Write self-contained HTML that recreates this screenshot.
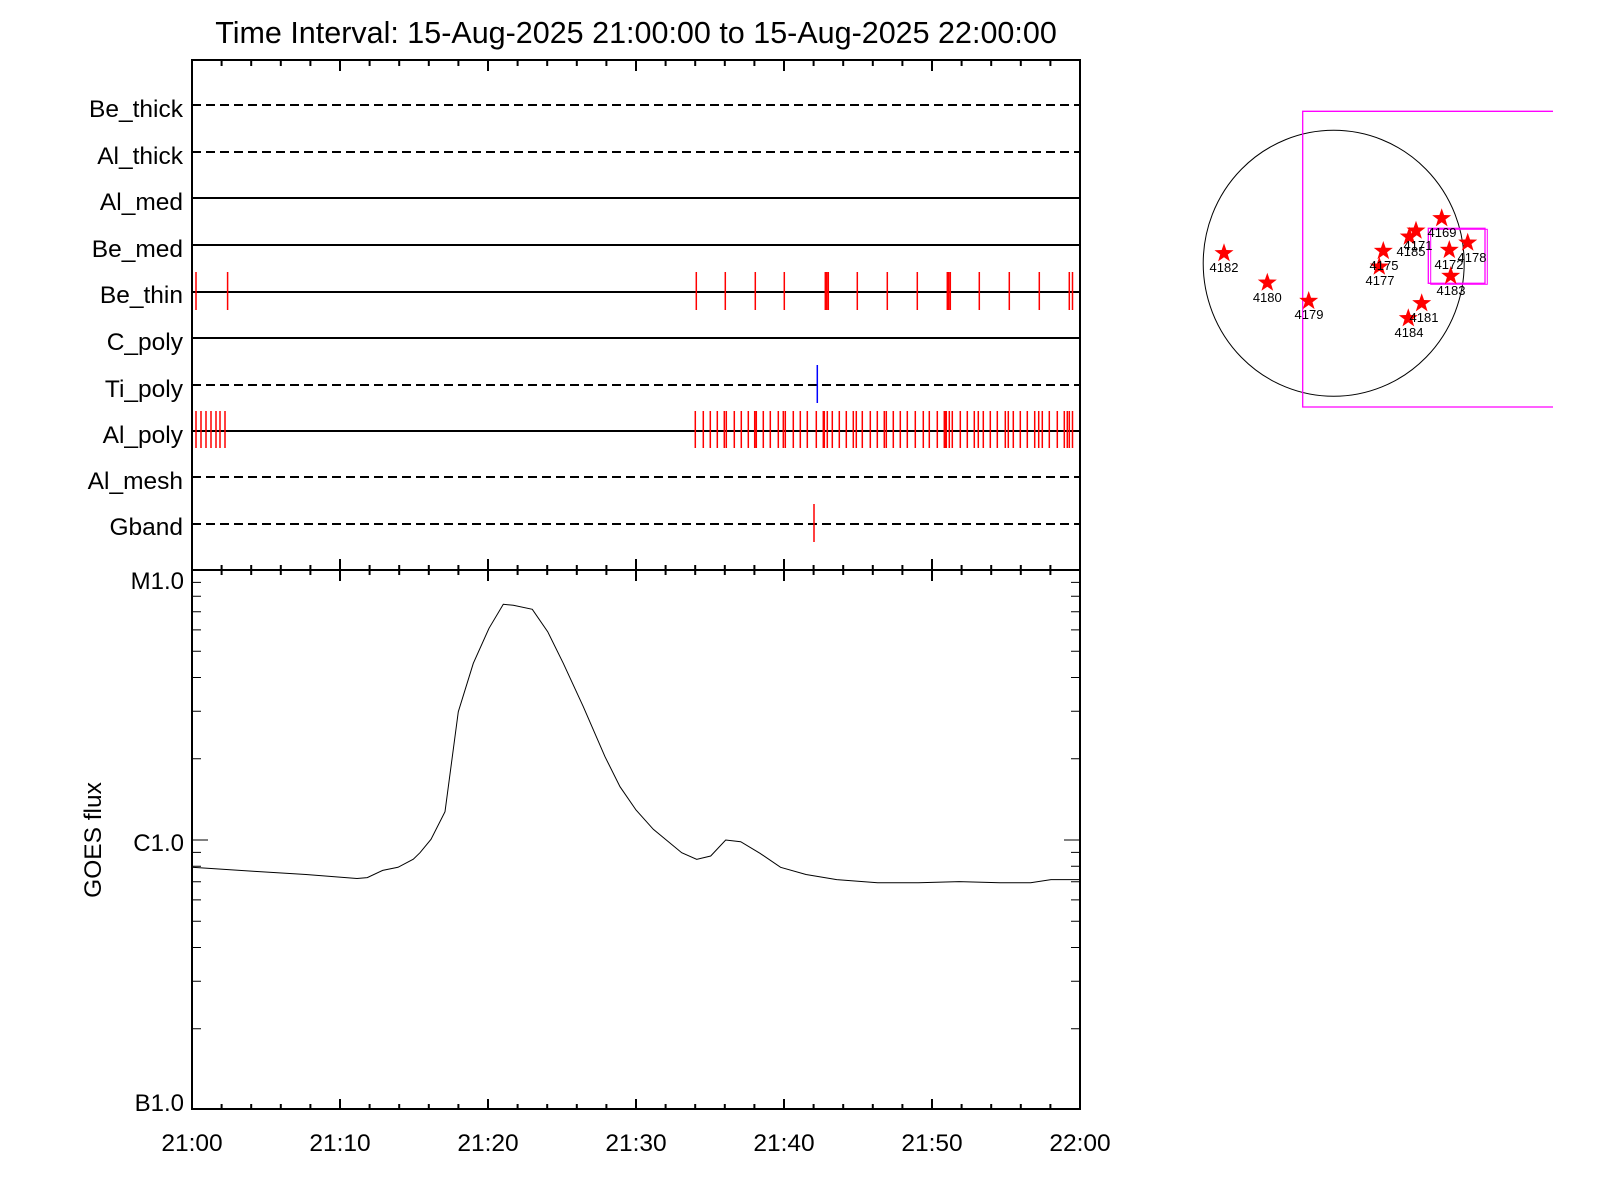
<!DOCTYPE html>
<html><head><meta charset="utf-8"><style>
html,body{margin:0;padding:0;background:#fff;}
svg{display:block;}
text{font-family:"Liberation Sans",sans-serif;fill:#000;}
</style></head><body>
<svg width="1600" height="1200" viewBox="0 0 1600 1200" xmlns="http://www.w3.org/2000/svg">
<defs>
<polygon id="st" points="0,-10 2.35,-3.24 9.51,-3.09 3.8,1.24 5.88,8.09 0,4 -5.88,8.09 -3.8,1.24 -9.51,-3.09 -2.35,-3.24" fill="#ff0000"/>
</defs>
<text x="636" y="43" font-size="30.5" text-anchor="middle">Time Interval: 15-Aug-2025 21:00:00 to 15-Aug-2025 22:00:00</text>

<rect x="192" y="60" width="888" height="510" fill="none" stroke="#000" stroke-width="2"/>
<path stroke="#000" stroke-width="2" fill="none" d="
M221.6 60v6M251.2 60v6M280.8 60v6M310.4 60v6M369.6 60v6M399.2 60v6M428.8 60v6M458.4 60v6M517.6 60v6M547.2 60v6M576.8 60v6M606.4 60v6M665.6 60v6M695.2 60v6M724.8 60v6M754.4 60v6M813.6 60v6M843.2 60v6M872.8 60v6M902.4 60v6M961.6 60v6M991.2 60v6M1020.8 60v6M1050.4 60v6
M340 60v11M488 60v11M636 60v11M784 60v11M932 60v11
M221.6 565v10M251.2 565v10M280.8 565v10M310.4 565v10M369.6 565v10M399.2 565v10M428.8 565v10M458.4 565v10M517.6 565v10M547.2 565v10M576.8 565v10M606.4 565v10M665.6 565v10M695.2 565v10M724.8 565v10M754.4 565v10M813.6 565v10M843.2 565v10M872.8 565v10M902.4 565v10M961.6 565v10M991.2 565v10M1020.8 565v10M1050.4 565v10
M192 559v22M340 559v22M488 559v22M636 559v22M784 559v22M932 559v22M1080 559v22
M221.6 1109v-5M251.2 1109v-5M280.8 1109v-5M310.4 1109v-5M369.6 1109v-5M399.2 1109v-5M428.8 1109v-5M458.4 1109v-5M517.6 1109v-5M547.2 1109v-5M576.8 1109v-5M606.4 1109v-5M665.6 1109v-5M695.2 1109v-5M724.8 1109v-5M754.4 1109v-5M813.6 1109v-5M843.2 1109v-5M872.8 1109v-5M902.4 1109v-5M961.6 1109v-5M991.2 1109v-5M1020.8 1109v-5M1050.4 1109v-5
M340 1109v-10M488 1109v-10M636 1109v-10M784 1109v-10M932 1109v-10
"/>

<g stroke="#000" stroke-width="2">
<line x1="192" x2="1080" y1="105" y2="105" stroke-dasharray="9,5"/>
<line x1="192" x2="1080" y1="152" y2="152" stroke-dasharray="9,5"/>
<line x1="192" x2="1080" y1="198" y2="198"/>
<line x1="192" x2="1080" y1="245" y2="245"/>
<line x1="192" x2="1080" y1="292" y2="292"/>
<line x1="192" x2="1080" y1="338" y2="338"/>
<line x1="192" x2="1080" y1="385" y2="385" stroke-dasharray="9,5"/>
<line x1="192" x2="1080" y1="431" y2="431"/>
<line x1="192" x2="1080" y1="477" y2="477" stroke-dasharray="9,5"/>
<line x1="192" x2="1080" y1="524" y2="524" stroke-dasharray="9,5"/>
</g>
<g font-size="24.5" text-anchor="end">
<text x="183" y="117">Be_thick</text>
<text x="183" y="164">Al_thick</text>
<text x="183" y="210">Al_med</text>
<text x="183" y="257">Be_med</text>
<text x="183" y="303">Be_thin</text>
<text x="183" y="350">C_poly</text>
<text x="183" y="397">Ti_poly</text>
<text x="183" y="443">Al_poly</text>
<text x="183" y="489">Al_mesh</text>
<text x="183" y="535">Gband</text>
</g>

<path stroke="#ff0000" stroke-width="1.5" fill="none" d="
M196 272v38M227.6 272v38M696.3 272v38M725.3 272v38M755.3 272v38M784.3 272v38M825.3 272v38M826.7 272v38M828.3 272v38M857.3 272v38M887.3 272v38M917.3 272v38M947.3 272v38M948.7 272v38M950.3 272v38M979.3 272v38M1009.3 272v38M1039.3 272v38M1069.3 272v38M1072.5 272v38"/>
<path stroke="#ff0000" stroke-width="1.5" fill="none" d="
M196 411v37M201 411v37M206 411v37M211 411v37M216 411v37M220 411v37M225 411v37
M695.3 411v37M703.3 411v37M710.3 411v37M717.3 411v37M724.3 411v37M726.3 411v37M734.3 411v37M741.3 411v37M748.3 411v37M754.7 411v37M756.3 411v37M763.3 411v37M770.3 411v37M778.3 411v37M783.3 411v37M785.3 411v37M793.3 411v37M800.3 411v37M807.3 411v37M816.3 411v37M823.3 411v37M824.3 411v37M827.3 411v37M832.3 411v37M839.3 411v37M846.3 411v37M853.3 411v37M856.3 411v37M862.3 411v37M870.3 411v37M877.3 411v37M884.3 411v37M886.3 411v37M893.3 411v37M900.3 411v37M907.3 411v37M915.3 411v37M923.3 411v37M929.3 411v37M937.3 411v37M944.3 411v37M945.3 411v37M946.3 411v37M949.3 411v37M952.3 411v37M960.3 411v37M967.3 411v37M974.3 411v37M978.3 411v37M983.3 411v37M990.3 411v37M997.3 411v37M1005.3 411v37M1008.3 411v37M1013.3 411v37M1020.3 411v37M1027.3 411v37M1034.7 411v37M1038.7 411v37M1042.3 411v37M1049.3 411v37M1057.3 411v37M1064.3 411v37M1067.3 411v37M1069.3 411v37M1072.5 411v37"/>
<line x1="817.3" x2="817.3" y1="365" y2="403" stroke="#0000ff" stroke-width="1.5"/>
<line x1="814" x2="814" y1="504" y2="542" stroke="#ff0000" stroke-width="1.5"/>

<rect x="192" y="570" width="888" height="539" fill="none" stroke="#000" stroke-width="2"/>
<path stroke="#000" stroke-width="1" fill="none" d="
M192 570h16M192 840h16M192 1109h16M1080 570h-16M1080 840h-16M1080 1109h-16
M192 758.7h9M192 711.2h9M192 677.5h9M192 651.3h9M192 629.9h9M192 611.8h9M192 596.2h9M192 582.4h9
M192 1028.7h9M192 981.2h9M192 947.5h9M192 921.3h9M192 899.9h9M192 881.8h9M192 866.2h9M192 852.4h9
M1080 758.7h-9M1080 711.2h-9M1080 677.5h-9M1080 651.3h-9M1080 629.9h-9M1080 611.8h-9M1080 596.2h-9M1080 582.4h-9
M1080 1028.7h-9M1080 981.2h-9M1080 947.5h-9M1080 921.3h-9M1080 899.9h-9M1080 881.8h-9M1080 866.2h-9M1080 852.4h-9"/>
<g font-size="24" text-anchor="end">
<text x="184" y="589">M1.0</text>
<text x="184" y="851">C1.0</text>
<text x="184" y="1111">B1.0</text>
</g>
<text x="0" y="0" font-size="24.5" text-anchor="middle" transform="translate(101,840) rotate(-90)">GOES flux</text>
<g font-size="24.5" text-anchor="middle">
<text x="192" y="1151">21:00</text>
<text x="340" y="1151">21:10</text>
<text x="488" y="1151">21:20</text>
<text x="636" y="1151">21:30</text>
<text x="784" y="1151">21:40</text>
<text x="932" y="1151">21:50</text>
<text x="1080" y="1151">22:00</text>
</g>
<polyline fill="none" stroke="#000" stroke-width="1" points="192,867.3 255,871.4 306,874.5 357,878.5 367.3,877.6 382.7,870.4 398,867.3 413.3,859.2 420,852.7 431,839.3 445,811.7 458.3,711.7 473.3,663.3 489,628.3 503.3,604.3 513.3,605.3 532.3,609.3 547.7,631.7 563.3,663.3 583.3,706.7 605,756.7 620,786.7 636,810 653.3,829.3 681.7,852.7 696.7,859.3 710.7,856 725.7,840 740.7,841.7 760,853.3 780.6,867.3 806,874.5 836.7,879.6 877.6,882.7 918.4,882.7 959.2,881.6 1000,882.7 1030.6,882.7 1051,879.6 1080,879.6"/>

<ellipse cx="1333.7" cy="263.3" rx="130.5" ry="133" fill="none" stroke="#000" stroke-width="1"/>
<path d="M1553 111.3H1302.7V407H1553" fill="none" stroke="#ff00ff" stroke-width="1.3"/>
<rect x="1428.3" y="228.3" width="56.7" height="55" fill="none" stroke="#ff00ff" stroke-width="1.3"/>
<rect x="1430.7" y="229.3" width="56.6" height="55" fill="none" stroke="#ff00ff" stroke-width="1"/>
<use href="#st" x="1224" y="253.3"/>
<use href="#st" x="1267.3" y="282.7"/>
<use href="#st" x="1308.7" y="301"/>
<use href="#st" x="1383.3" y="251"/>
<use href="#st" x="1379.3" y="266.7"/>
<use href="#st" x="1409.3" y="236.7"/>
<use href="#st" x="1416" y="230.7"/>
<use href="#st" x="1441.7" y="218.3"/>
<use href="#st" x="1449.3" y="250"/>
<use href="#st" x="1467.7" y="242.7"/>
<use href="#st" x="1450.7" y="276"/>
<use href="#st" x="1421.7" y="303.3"/>
<use href="#st" x="1408.3" y="318.3"/>
<g font-size="13" text-anchor="middle">
<text x="1224" y="272">4182</text>
<text x="1267.3" y="302">4180</text>
<text x="1309" y="319">4179</text>
<text x="1384" y="270">4175</text>
<text x="1380" y="285">4177</text>
<text x="1411" y="256">4185</text>
<text x="1418" y="250">4171</text>
<text x="1442" y="237">4169</text>
<text x="1449" y="269">4172</text>
<text x="1472" y="262">4178</text>
<text x="1451" y="295">4183</text>
<text x="1424" y="322">4181</text>
<text x="1409" y="337">4184</text>
</g>
</svg>
</body></html>
